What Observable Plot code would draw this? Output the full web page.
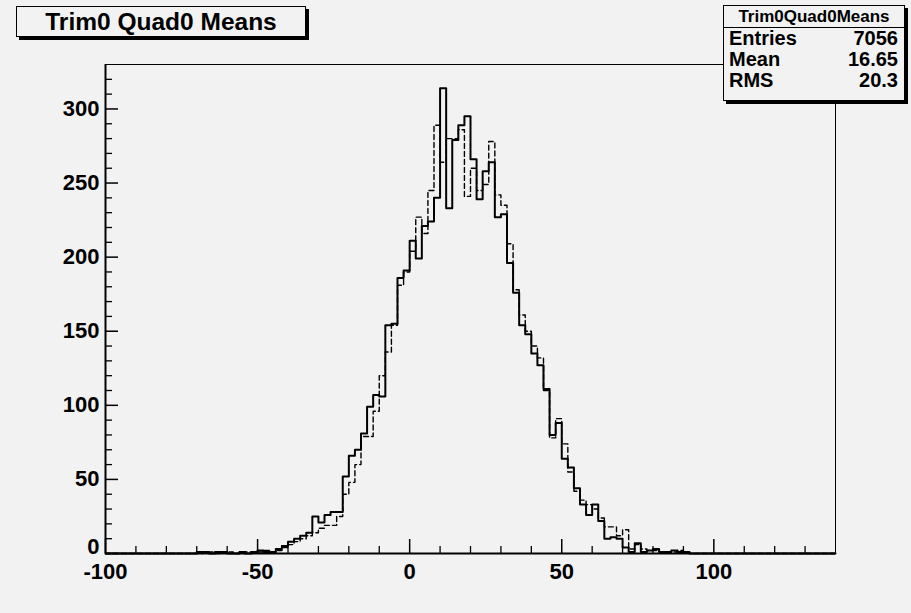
<!DOCTYPE html>
<html><head><meta charset="utf-8">
<script src="https://cdn.jsdelivr.net/npm/d3@7"></script>
<script src="https://cdn.jsdelivr.net/npm/@observablehq/plot@0.6"></script>
<style>
html,body{margin:0;padding:0;background:#f2f2f2;}
#wrap{position:relative;width:911px;height:613px;font-family:"Liberation Sans",Arial,Helvetica,sans-serif;font-weight:bold;color:#000;overflow:hidden;}
#title{position:absolute;left:16px;top:6px;width:288px;height:29px;border:1px solid #000;box-shadow:3px 3px 0 #000;background:#f2f2f2;font-size:24.5px;line-height:30px;text-align:center;}
#stats{position:absolute;left:723px;top:5px;width:180px;height:94px;border:1px solid #000;box-shadow:3px 3px 0 #000;background:#f2f2f2;}
#stats .head{height:21px;border-bottom:1px solid #000;font-size:17px;line-height:22px;text-align:center;}
#stats .row{height:21px;font-size:20px;line-height:21px;display:flex;justify-content:space-between;padding:0 6px 0 5px;}
</style></head><body><div id="wrap"></div>
<script>
// ---- data ----
const titleText = "Trim0 Quad0 Means";
const statsName = "Trim0Quad0Means";
const statsLabels = ["Entries", "Mean", "RMS"];
const statsValues = ["7056", "16.65", "20.3"];

const binWidth = 2;
const firstBinLow = -72;   // lower edge of first listed bin
const solidCounts = [
  0, 1, 1, 0, 1, 1, 0, 0, 1, 0, 1, 2, 1, 1, 3, 5, 8, 10, 12, 14,
  25, 21, 26, 28, 28, 52, 66, 70, 81, 99, 107, 106, 154, 155, 186, 191,
  211, 199, 221, 224, 240, 314, 233, 279, 289, 295,
  266, 239, 258, 264, 227, 229, 196, 176, 154, 148,
  135, 127, 111, 80, 88, 64, 58, 44, 33, 26,
  33, 22, 10, 11, 10, 4, 1, 7, 1, 2, 3, 1, 1, 2, 1, 1, 0
];
const dashedCounts = [
  0, 0, 1, 1, 0, 1, 1, 0, 0, 1, 1, 1, 2, 1, 2, 4, 6, 8, 10, 12,
  14, 17, 19, 19, 25, 40, 48, 60, 79, 79, 96, 120, 136, 154, 181, 190,
  204, 227, 216, 245, 289, 264, 280, 280, 286, 241,
  260, 245, 249, 278, 242, 235, 209, 178, 161, 150,
  140, 132, 110, 78, 91, 74, 55, 42, 36, 33,
  30, 24, 18, 18, 12, 16, 3, 6, 3, 2, 2, 1, 1, 1, 2, 1, 0
];

const xDomain = [-100, 140];
const yDomain = [0, 330];
const xMajorTicks = [-100, -50, 0, 50, 100];
const xMinorTicks = [-90, -80, -70, -60, -40, -30, -20, -10, 10, 20, 30, 40, 60, 70, 80, 90, 110, 120, 130];
const yMajorTicks = [0, 50, 100, 150, 200, 250, 300];
const yMinorTicks = [10, 20, 30, 40, 60, 70, 80, 90, 110, 120, 130, 140, 160, 170, 180, 190, 210, 220, 230, 240, 260, 270, 280, 290, 310, 320];

// ---- build step outlines over the full axis range ----
function stepPoints(counts) {
  const pts = [];
  for (let lo = xDomain[0]; lo < xDomain[1]; lo += binWidth) {
    const i = Math.round((lo - firstBinLow) / binWidth);
    const v = (i >= 0 && i < counts.length) ? counts[i] : 0;
    pts.push({x: lo, y: v});
  }
  pts.push({x: xDomain[1], y: pts[pts.length - 1].y});
  return pts;
}
const solidPts = stepPoints(solidCounts);
const dashedPts = stepPoints(dashedCounts);

const W = 911, H = 613, mL = 105, mR = 76, mT = 64, mB = 60;
const frameW = W - mL - mR, frameH = H - mT - mB;

const chart = Plot.plot({
  width: W, height: H,
  marginLeft: mL, marginRight: mR, marginTop: mT, marginBottom: mB,
  style: {background: "#f2f2f2", fontFamily: "'Liberation Sans', Arial, sans-serif", color: "#000"},
  x: {domain: xDomain, axis: null},
  y: {domain: yDomain, axis: null},
  marks: [
    Plot.frame({stroke: "#000", strokeWidth: 1}),
    Plot.line(dashedPts, {x: "x", y: "y", curve: "step-after", stroke: "#000", strokeWidth: 1.4, strokeDasharray: "5,3"}),
    Plot.line(solidPts, {x: "x", y: "y", curve: "step-after", stroke: "#000", strokeWidth: 2}),
    Plot.ruleY([0], {stroke: "#000", strokeWidth: 2}),
    Plot.ruleX([xDomain[0]], {stroke: "#000", strokeWidth: 2}),
    Plot.tickX(xMajorTicks, {x: d => d, insetTop: frameH - 14, stroke: "#000", strokeWidth: 1.5}),
    Plot.tickX(xMinorTicks, {x: d => d, insetTop: frameH - 7, stroke: "#000", strokeWidth: 1.3}),
    Plot.tickY(yMajorTicks, {y: d => d, insetRight: frameW - 13, stroke: "#000", strokeWidth: 1.5}),
    Plot.tickY(yMinorTicks, {y: d => d, insetRight: frameW - 7, stroke: "#000", strokeWidth: 1.3}),
    Plot.axisX(xMajorTicks, {tickSize: 0, tickPadding: 10, fontSize: 22, fontWeight: "bold", tickFormat: d => String(d), label: null}),
    Plot.axisY(yMajorTicks.filter(d => d > 0), {tickSize: 0, tickPadding: 6, fontSize: 22, fontWeight: "bold", tickFormat: d => String(d), label: null}),
    Plot.axisY([0], {tickSize: 0, tickPadding: 6, dy: -7, fontSize: 22, fontWeight: "bold", tickFormat: d => String(d), label: null})
  ]
});

const wrap = document.getElementById("wrap");
wrap.appendChild(chart);

const t = document.createElement("div");
t.id = "title";
t.textContent = titleText;
wrap.appendChild(t);

const s = document.createElement("div");
s.id = "stats";
const head = document.createElement("div");
head.className = "head";
head.textContent = statsName;
s.appendChild(head);
statsLabels.forEach((lab, i) => {
  const r = document.createElement("div");
  r.className = "row";
  const a = document.createElement("span"); a.textContent = lab;
  const b = document.createElement("span"); b.textContent = statsValues[i];
  r.appendChild(a); r.appendChild(b);
  s.appendChild(r);
});
wrap.appendChild(s);
</script>
</body></html>
